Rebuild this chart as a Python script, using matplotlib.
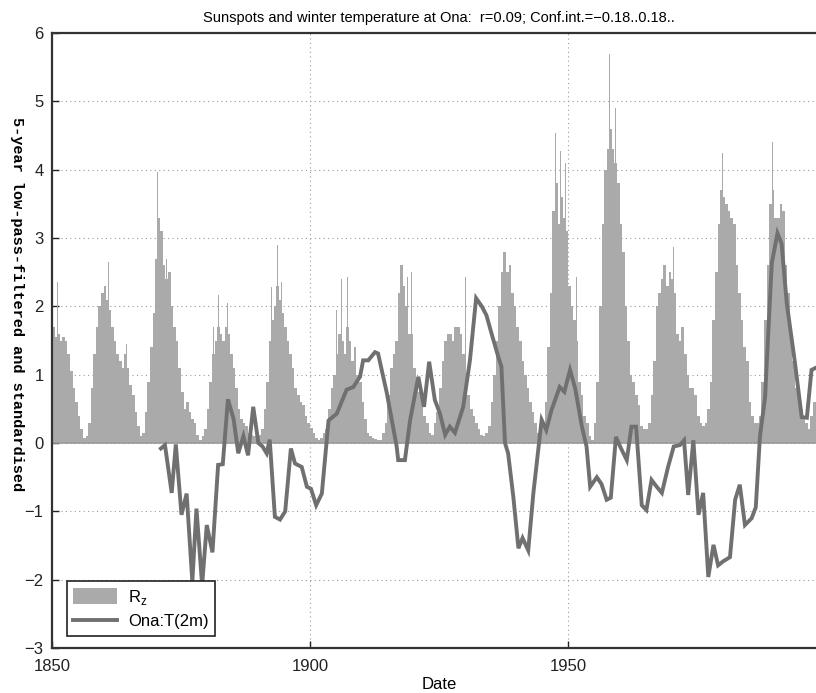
#!/usr/bin/env python3

import numpy as np
import matplotlib
matplotlib.use("Agg")
import matplotlib.pyplot as plt
from matplotlib.patches import Patch
from matplotlib.lines import Line2D

# Standardised sunspot number, half-year steps starting 1850.0
rz_start = 1850.0
rz_step = 0.5
rz_values = [
    1.7, 1.55, 1.6, 1.5, 1.55, 1.5, 1.3, 1.05, 0.8, 0.6, 0.4, 0.2, 0.08, 0.1,          # 1850-1856.5
    0.3, 0.8, 1.3, 1.7, 2.0, 2.2, 2.3, 2.1, 1.95, 1.7, 1.5, 1.3, 1.2, 1.1,             # 1857-1863.5
    1.3, 1.1, 0.85, 0.7, 0.45, 0.25, 0.1, 0.15,                                        # 1864-1867.5
    0.45, 0.9, 1.4, 1.9, 2.7, 3.3, 3.1, 2.6, 2.4, 2.5, 2.0, 1.7,                       # 1868-1873.5
    1.5, 1.1, 0.75, 0.5, 0.6, 0.45, 0.35, 0.3, 0.12, 0.05, 0.1, 0.2,                   # 1874-1879.5
    0.5, 0.9, 1.3, 1.5, 1.7, 1.6, 1.5, 1.7, 1.6, 1.3, 1.1, 0.8,                        # 1880-1885.5
    0.5, 0.35, 0.3, 0.25, 0.15, 0.12, 0.1, 0.1, 0.12, 0.2,                             # 1886-1890.5
    0.5, 0.9, 1.5, 1.8, 2.0, 2.3, 2.1, 1.9, 1.7, 1.5, 1.3, 1.1,                        # 1891-1896.5
    0.8, 0.7, 0.6, 0.55, 0.4, 0.3, 0.22, 0.15, 0.08, 0.05, 0.08, 0.15,                 # 1897-1902.5
    0.2, 0.5, 0.8, 1.0, 1.3, 1.6, 1.5, 1.3, 1.7, 1.5, 1.2, 1.4,                        # 1903-1908.5
    1.0, 0.9, 0.6, 0.35, 0.15, 0.1, 0.08, 0.06, 0.04, 0.05, 0.15, 0.3,                 # 1909-1914.5
    0.7, 1.1, 1.3, 1.5, 2.2, 2.6, 2.3, 2.0, 1.6, 1.6, 1.1, 0.9,                        # 1915-1920.5
    0.75, 0.6, 0.4, 0.3, 0.15, 0.12, 0.3, 0.45,                                        # 1921-1924.5
    0.8, 1.2, 1.5, 1.6, 1.6, 1.5, 1.7, 1.7, 1.6, 1.3, 1.0, 0.7,                        # 1925-1930.5
    0.5, 0.4, 0.3, 0.2, 0.12, 0.1, 0.15, 0.25,                                         # 1931-1934.5
    0.6, 1.0, 1.5, 2.0, 2.5, 2.8, 2.5, 2.6, 2.2, 2.0,                                  # 1935-1939.5
    1.7, 1.5, 1.2, 1.0, 0.8, 0.6, 0.45, 0.3, 0.15, 0.12,                               # 1940-1944.5
    0.3, 0.6, 1.4, 2.2, 3.4, 3.8, 3.2, 3.6, 3.3, 3.1,                                  # 1945-1949.5
    2.3, 2.0, 1.8, 1.5, 0.9, 0.7, 0.4, 0.3, 0.1, 0.05,                                 # 1950-1954.5
    0.3, 0.9, 2.0, 3.2, 4.0, 4.3, 4.6, 4.3, 4.1, 3.8,                                  # 1955-1959.5
    3.2, 2.8, 2.0, 1.5, 1.0, 0.9, 0.7, 0.55, 0.25, 0.2,                                # 1960-1964.5
    0.2, 0.3, 0.7, 1.2, 2.0, 2.2, 2.4, 2.6, 2.3, 2.5,                                  # 1965-1969.5
    2.4, 2.2, 1.6, 1.5, 1.7, 1.3, 1.0, 0.8, 0.8, 0.7,                                  # 1970-1974.5
    0.4, 0.3, 0.25, 0.3, 0.5, 0.9, 1.8, 2.5, 3.2, 3.7,                                 # 1975-1979.5
    3.6, 3.5, 3.4, 3.3, 3.2, 2.6, 2.2, 1.8, 1.4, 1.2,                                  # 1980-1984.5
    0.6, 0.4, 0.3, 0.3, 0.4, 0.9, 1.8, 2.6, 3.5, 3.7,                                  # 1985-1989.5
    3.3, 3.3, 3.5, 3.4, 2.6, 2.2, 1.5, 1.2, 0.8, 0.6,                                  # 1990-1994.5
    0.5, 0.4, 0.3, 0.2, 0.4, 0.6, 1.0,                                                 # 1995-1998
]

# Single-month spikes standing above the half-year envelope
spike_years = [1851.1, 1859.9, 1860.9, 1863.4, 1864.4,
               1870.4, 1871.3, 1872.2, 1872.9, 1874.4, 1876.2, 1877.1,
               1881.3, 1882.3, 1884.0, 1885.7,
               1892.6, 1893.7, 1894.5, 1896.7, 1897.9,
               1905.2, 1906.1, 1907.3, 1908.7,
               1917.1, 1917.8, 1918.9, 1919.7,
               1926.2, 1927.5, 1928.7, 1930.2,
               1937.6, 1938.8, 1940.9,
               1947.6, 1948.6, 1949.5, 1951.7,
               1958.0, 1959.2,
               1969.6, 1970.5, 1972.3,
               1979.9, 1981.4,
               1989.6, 1990.9, 1991.9]
spike_values = [2.35, 2.6, 2.65, 1.5, 1.45,
                3.97, 3.66, 2.7, 2.6, 1.55, 0.7, 0.55,
                1.7, 2.17, 2.05, 1.4,
                2.28, 2.9, 2.35, 1.35, 1.07,
                1.95, 2.4, 2.43, 2.05,
                1.6, 3.48, 2.43, 2.5,
                2.2, 2.15, 2.2, 2.43,
                3.27, 3.73, 2.4,
                4.54, 4.27, 4.1, 2.43,
                5.7, 4.9,
                3.04, 2.87, 2.0,
                4.24, 3.9,
                4.4, 4.5, 3.97]

# Low-pass-filtered, standardised winter 2 m temperature at Ona
t_years = [1871.1, 1871.9, 1873.2, 1874.0, 1875.1, 1876.1, 1877.2, 1878.0, 1879.1,
           1880.0, 1881.1, 1882.2, 1883.1, 1884.1, 1885.2, 1886.1, 1887.1, 1888.0,
           1889.0, 1890.0, 1890.8, 1891.6, 1892.2, 1893.2, 1894.2, 1895.2, 1896.3,
           1897.1, 1898.4, 1899.4, 1900.2, 1901.2, 1902.3, 1903.6, 1905.2, 1907.1,
           1908.4, 1909.7, 1910.3, 1911.3, 1912.6, 1913.2, 1914.9, 1916.8, 1917.1,
           1918.4, 1919.4, 1921.0, 1922.1, 1923.1, 1924.2, 1925.2, 1926.2, 1927.1,
           1928.1, 1929.7, 1931.0, 1932.2, 1933.3, 1934.2, 1935.2, 1936.5, 1937.1,
           1937.8, 1938.4, 1939.4, 1940.4, 1941.2, 1942.3, 1943.3, 1944.6, 1944.9,
           1945.8, 1946.8, 1948.4, 1949.3, 1950.4, 1951.4, 1952.7, 1953.6, 1954.3,
           1955.6, 1956.5, 1957.5, 1958.3, 1959.3, 1960.1, 1961.4, 1962.3, 1963.2,
           1964.3, 1965.2, 1966.2, 1967.2, 1968.2, 1969.4, 1970.5, 1971.7, 1972.5,
           1973.3, 1974.3, 1975.3, 1976.2, 1977.2, 1978.2, 1979.1, 1980.1, 1981.4,
           1982.4, 1983.3, 1984.3, 1985.6, 1986.4, 1987.2, 1988.2, 1989.5, 1990.6,
           1991.4, 1992.4, 1994.0, 1995.3, 1996.3, 1997.2, 1998.0]
t_values = [-0.08, -0.03, -0.73, -0.02, -1.05, -0.74, -2.03, -0.96, -2.08,
            -1.2, -1.6, -0.32, -0.31, 0.64, 0.35, -0.15, 0.1, -0.18,
            0.53, 0.0, -0.05, -0.15, 0.05, -1.08, -1.12, -1.0, -0.08,
            -0.3, -0.35, -0.64, -0.67, -0.91, -0.74, 0.33, 0.43, 0.78,
            0.82, 0.97, 1.21, 1.21, 1.33, 1.31, 0.73, -0.05, -0.25,
            -0.25, 0.33, 0.97, 0.53, 1.19, 0.63, 0.43, 0.12, 0.24,
            0.15, 0.53, 1.21, 2.12, 2.0, 1.87, 1.6, 1.26, 1.12,
            0.0, -0.15, -0.78, -1.54, -1.39, -1.57, -0.73, 0.14, 0.34,
            0.19, 0.48, 0.82, 0.75, 1.07, 0.8, 0.24, -0.05, -0.64,
            -0.5, -0.6, -0.83, -0.8, 0.09, -0.05, -0.25, 0.24, 0.24,
            -0.91, -0.98, -0.54, -0.64, -0.73, -0.35, -0.05, -0.03, 0.04,
            -0.76, 0.04, -1.05, -0.73, -1.96, -1.49, -1.79, -1.73, -1.67,
            -0.83, -0.61, -1.2, -1.1, -0.94, 0.09, 0.67, 2.63, 3.07,
            2.92, 2.05, 1.17, 0.38, 0.37, 1.07, 1.1]

x_ticks = [1850, 1900, 1950]
y_ticks = list(range(-3, 7))

bar_color = '#aaaaaa'
line_color = '#707070'

plt.rcParams['font.family'] = ['Liberation Sans', 'DejaVu Sans']

fig = plt.figure(figsize=(8.16, 6.93), dpi=100)
ax = fig.add_axes([0.0637, 0.0649, 0.9485, 0.8874])

# Sunspot bars
rz_x = rz_start + rz_step * np.arange(len(rz_values))
ax.bar(rz_x, rz_values, width=rz_step, align='edge', color=bar_color,
       edgecolor='none', zorder=2)
ax.bar(spike_years, spike_values, width=0.12, color=bar_color,
       edgecolor='none', zorder=2)
ax.axhline(0, color='#9a9a9a', lw=1.2, zorder=2.5)

# Temperature curve
ax.plot(t_years, t_values, color=line_color, lw=2.8, solid_joinstyle='miter',
        zorder=3)

ax.set_xlim(1850, 2000)
ax.set_ylim(-3, 6)
ax.set_xticks(x_ticks)
ax.set_yticks(y_ticks)
ax.tick_params(direction='in', length=5, width=1, labelsize=12, colors='#222222')
ax.tick_params(axis='x', pad=8)
ax.tick_params(axis='y', pad=6)
ax.grid(True, color='#9a9a9a', linestyle=(0, (1, 3)), linewidth=0.8, zorder=1)
for side in ['left', 'bottom', 'top', 'right']:
    ax.spines[side].set_linewidth(1.6)
    ax.spines[side].set_color('#333333')

ax.set_title('Sunspots and winter temperature at Ona:  r=0.09; Conf.int.=\u22120.18..0.18..',
             fontsize=10.5, pad=8)
ax.set_xlabel('Date', fontsize=12, labelpad=2)
ax.set_ylabel('5-year low-pass-filtered and standardised', rotation=270,
              fontsize=11, family='Liberation Mono', weight='bold', va='bottom')
ax.yaxis.set_label_coords(-0.054, 0.56)

handles = [Patch(facecolor=bar_color, edgecolor='none'),
           Line2D([0], [0], color=line_color, lw=2.8)]
leg = ax.legend(handles, ['R$_\\mathregular{z}$', 'Ona:T(2m)'], loc='lower left',
                bbox_to_anchor=(0.008, 0.006), fontsize=12, fancybox=False,
                framealpha=1, edgecolor='#222222', handlelength=2.6,
                handleheight=1.1, borderpad=0.4, labelspacing=0.35,
                handletextpad=0.7)
leg.get_frame().set_linewidth(1.2)
leg.set_zorder(5)

fig.savefig('out.png', dpi=100)
